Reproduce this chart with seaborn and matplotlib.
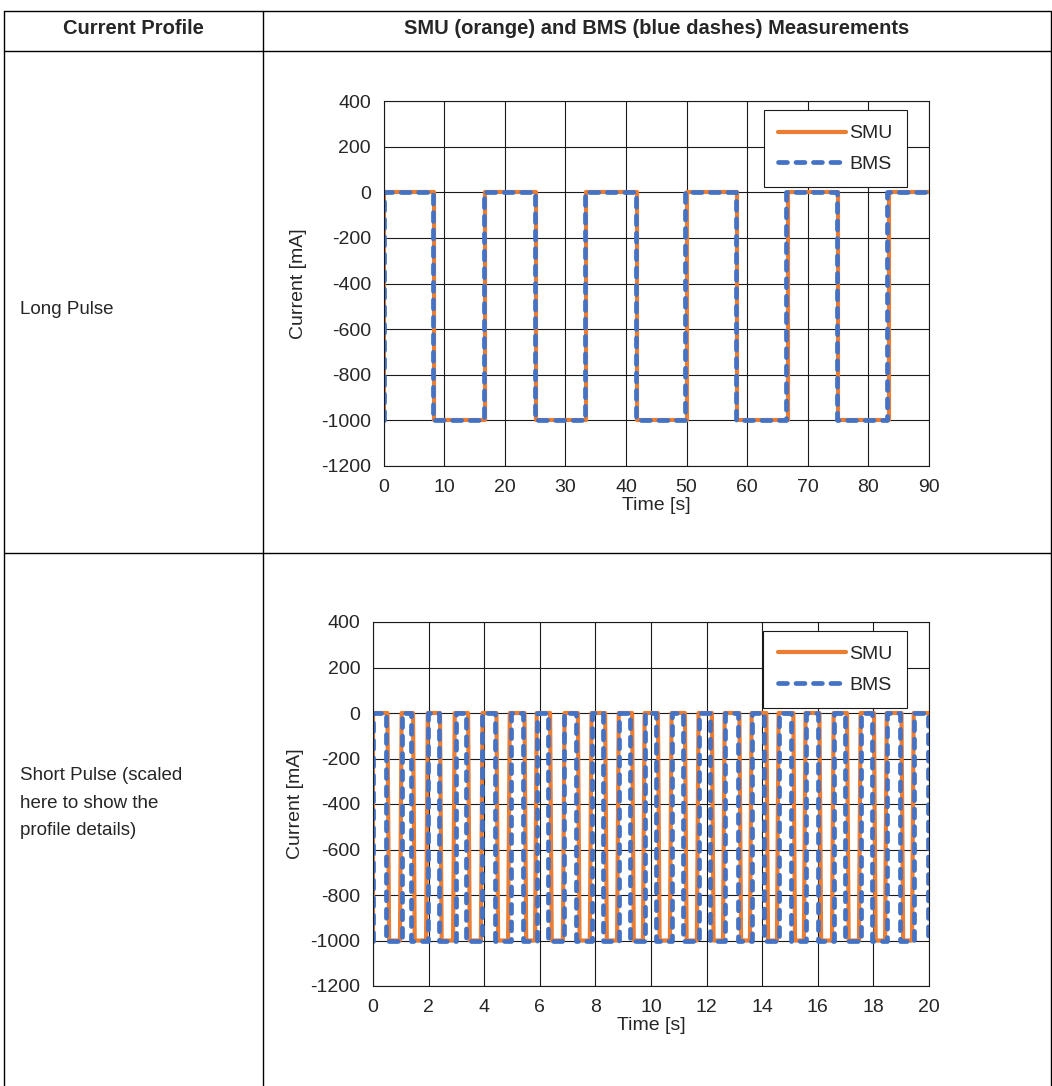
"""
Tabela com os dois perfis de corrente (pulso longo e pulso curto),
medições do SMU (laranja) e do BMS (azul tracejado).
"""

import matplotlib
matplotlib.use('Agg')

import matplotlib.pyplot as plt
from matplotlib.lines import Line2D
import seaborn as sns

sns.set_theme(style='white')
plt.rcParams['font.family'] = ['Liberation Sans', 'DejaVu Sans']
plt.rcParams['axes.unicode_minus'] = False

# Dados
HEADER_LEFT = 'Current Profile'
HEADER_RIGHT = 'SMU (orange) and BMS (blue dashes) Measurements'
ROW_LABELS = ['Long Pulse', 'Short Pulse (scaled\nhere to show the\nprofile details)']

LOW_MA = -1000
HIGH_MA = 0

# pulso longo: instantes das transições [s]
LONG_END = 90
LONG_SMU_RISES = [0.0, 16.7, 33.4, 50.1, 66.7, 83.4]
LONG_SMU_FALLS = [8.3, 25.1, 41.8, 58.4, 75.0]
LONG_BMS_RISES = [0.0, 16.6, 33.3, 49.8, 66.4, 83.1]
LONG_BMS_FALLS = [8.2, 25.0, 41.7, 58.2, 74.9]

# pulso curto
SHORT_END = 20
SHORT_SMU_RISES = [0.0, 0.97, 1.91, 2.88, 3.88, 4.86, 5.83, 6.83, 7.80, 8.78, 9.71,
                   10.68, 11.65, 12.59, 13.56, 14.53, 15.50, 16.51, 17.48, 18.42, 19.39]
SHORT_SMU_FALLS = [0.52, 1.44, 2.41, 3.42, 4.44, 5.45, 6.37, 7.37, 8.35, 9.32,
                   10.25, 11.22, 12.19, 13.18, 14.15, 15.12, 16.06, 17.05, 18.02, 19.01]
SHORT_BMS_RISES = [0.0, 1.03, 1.97, 2.97, 3.92, 4.95, 5.90, 6.88, 7.88, 8.86, 9.77,
                   10.75, 11.72, 12.67, 13.62, 14.60, 15.57, 16.58, 17.55, 18.48, 19.46]
SHORT_BMS_FALLS = [0.47, 1.38, 2.36, 3.34, 4.38, 5.38, 6.31, 7.30, 8.28, 9.26, 10.19,
                   11.15, 12.12, 13.12, 14.08, 15.05, 16.00, 16.98, 17.95, 18.94, 19.97]

Y_TICKS = [400, 200, 0, -200, -400, -600, -800, -1000, -1200]
LONG_X_TICKS = list(range(0, 91, 10))
SHORT_X_TICKS = list(range(0, 21, 2))

SMU_COLOR = '#ED7D31'
BMS_COLOR = '#4472C4'
GRID_COLOR = '#1a1a1a'
BMS_DASHES = [1.9, 1.8]
FONT = 14


def montar_onda(subidas, descidas, fim, rampa=0.0):
    """Monta a onda quadrada a partir dos instantes de transição."""
    eventos = sorted([(t, 'up') for t in subidas] + [(t, 'down') for t in descidas])
    xs, ys = [], []
    nivel = LOW_MA
    for t, tipo in eventos:
        novo = HIGH_MA if tipo == 'up' else LOW_MA
        xs += [t, t + rampa if t > 0 else t]
        ys += [nivel, novo]
        nivel = novo
    xs.append(fim)
    ys.append(nivel)
    return xs, ys


def desenhar(ax, smu, bms, x_ticks, xmax, ylabelpad):
    sns.lineplot(x=smu[0], y=smu[1], sort=False, estimator=None, ax=ax,
                 color=SMU_COLOR, linewidth=3.0, label='SMU')
    sns.lineplot(x=bms[0], y=bms[1], sort=False, estimator=None, ax=ax,
                 color=BMS_COLOR, linewidth=3.4, label='BMS')
    bms_line = ax.lines[-1]
    bms_line.set_dashes(BMS_DASHES)
    bms_line.set_dash_capstyle('round')

    ax.set_xlim(0, xmax)
    ax.set_ylim(-1200, 400)
    ax.set_xticks(x_ticks)
    ax.set_yticks(Y_TICKS)
    ax.tick_params(labelsize=FONT, length=0, pad=9)
    ax.grid(True, color=GRID_COLOR, linewidth=0.8)
    for sp in ax.spines.values():
        sp.set_color(GRID_COLOR)
        sp.set_linewidth(0.8)
    ax.set_xlabel('Time [s]', fontsize=FONT, labelpad=1)
    ax.set_ylabel('Current [mA]', fontsize=FONT, labelpad=ylabelpad)

    leg = ax.legend(loc='upper right', bbox_to_anchor=(0.96, 0.975), fontsize=FONT,
                    handlelength=3.5, fancybox=False, framealpha=1,
                    borderpad=0.75, labelspacing=0.65, handletextpad=0.15,
                    borderaxespad=0.0)
    leg.get_frame().set_edgecolor(GRID_COLOR)
    leg.get_frame().set_linewidth(0.8)
    for h in leg.get_lines():
        if h.get_label() == 'BMS':
            h.set_dashes(BMS_DASHES)
            h.set_dash_capstyle('round')


def main():
    W, H = 1052, 1086
    fig = plt.figure(figsize=(W / 100, H / 100), dpi=100)

    # linhas da tabela (em pixels)
    def hline(y, x0=4, x1=1051):
        fig.add_artist(Line2D([x0 / W, x1 / W], [1 - y / H, 1 - y / H],
                              color='black', linewidth=1.0))

    def vline(x, y0=11, y1=1086):
        fig.add_artist(Line2D([x / W, x / W], [1 - y0 / H, 1 - y1 / H],
                              color='black', linewidth=1.0))

    hline(11)
    hline(51)
    hline(553)
    vline(4)
    vline(263)
    vline(1051)

    fig.text(133 / W, 1 - 29 / H, HEADER_LEFT, ha='center', va='center',
             fontsize=14.5, fontweight='bold')
    fig.text(657 / W, 1 - 29 / H, HEADER_RIGHT, ha='center', va='center',
             fontsize=14.5, fontweight='bold')
    fig.text(20 / W, 1 - 310 / H, ROW_LABELS[0], ha='left', va='center', fontsize=13.5)
    fig.text(20 / W, 1 - 803 / H, ROW_LABELS[1], ha='left', va='center', fontsize=13.5,
             linespacing=1.8)

    ax1 = fig.add_axes([383.5 / W, 1 - 466 / H, (929 - 383.5) / W, 365 / H])
    smu = montar_onda(LONG_SMU_RISES, LONG_SMU_FALLS, LONG_END)
    bms = montar_onda(LONG_BMS_RISES, LONG_BMS_FALLS, LONG_END)
    desenhar(ax1, smu, bms, LONG_X_TICKS, LONG_END, ylabelpad=10)

    ax2 = fig.add_axes([373 / W, 1 - 986 / H, (929 - 373) / W, 364 / H])
    smu = montar_onda(SHORT_SMU_RISES, SHORT_SMU_FALLS, SHORT_END, rampa=0.06)
    bms = montar_onda(SHORT_BMS_RISES, SHORT_BMS_FALLS, SHORT_END)
    desenhar(ax2, smu, bms, SHORT_X_TICKS, SHORT_END, ylabelpad=5)

    fig.savefig('out.png', dpi=100)
    plt.close(fig)


if __name__ == '__main__':
    main()
